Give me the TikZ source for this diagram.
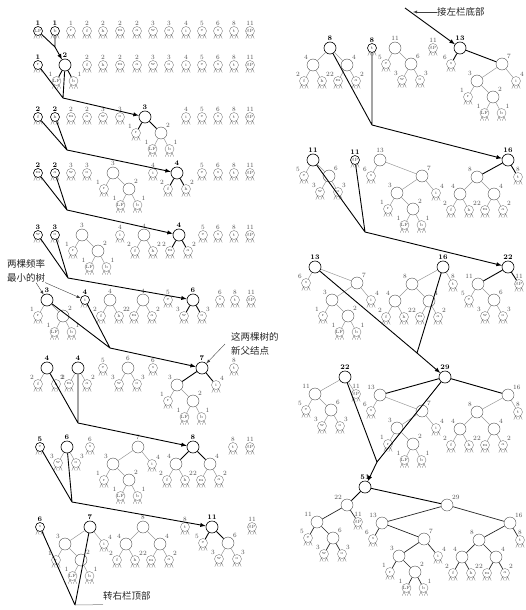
\documentclass[tikz,border=0pt]{standalone}
\usepackage{fontspec}
\newfontfamily\cjk{Noto Sans CJK SC}
\usepackage{tikz}

\tikzset{
  leaf/.style={circle,draw=gray,minimum size=9pt,inner sep=0pt,text=gray!60!black,font=\fontsize{4.5}{4.5}\selectfont},
  inner/.style={circle,draw=black!70,minimum size=12pt,inner sep=0pt},
  leg/.style={gray,line width=0.4pt},
  stp/.style={},
  stc/.style={draw=black,semithick},
  stn/.style={draw=black,semithick},
  wtp/.style={text=gray!60!black,inner sep=0.6pt,font=\fontsize{6.5}{7}\selectfont},
  wtc/.style={text=black,inner sep=0.6pt,font=\fontsize{7}{8}\selectfont\bfseries},
  wtn/.style={wtc},
  ep/.style={gray!80,line width=0.5pt},
  ec/.style={ep},
  en/.style={black,line width=0.9pt},
  mline/.style={black,line width=0.9pt},
  note/.style={font=\cjk\fontsize{9.5}{14}\selectfont,text=black!85,inner sep=0pt},
  noteline/.style={black!75,line width=0.4pt},
}

% leaf: name, x, y, letter, weight, label side, state
\newcommand{\Lf}[7]{%
  \node[leaf,st#7,label={[wt#7]#6:#5}] (#1) at (#2,#3) {#4};
  \draw[leg] (#1.center) ++(-4.2,7.5) -- ++(1.7,-3.7) -- ++(1.7,3.7)
             (#1.center) ++(0.8,7.5) -- ++(1.7,-3.7) -- ++(1.7,3.7);}
% inner node: name, x, y, weight, label side, state
\newcommand{\In}[6]{%
  \node[inner,st#6,label={[wt#6]#5:#4}] (#1) at (#2,#3) {};}

% subtrees: name, x, y, label side, state
\newcommand{\Ttwo}[5]{% 2 = LF + b
  \In{#1}{#2}{#3}{2}{#4}{#5}
  \Lf{#1a}{#2-8.5}{#3+16}{LF}{1}{above left}{p}
  \Lf{#1b}{#2+8.5}{#3+16}{b}{1}{above right}{p}
  \draw[e#5] (#1) -- (#1a) (#1) -- (#1b);}
\newcommand{\Tthree}[5]{% 3 = r + 2
  \In{#1}{#2}{#3}{3}{#4}{#5}
  \Lf{#1a}{#2-9}{#3+16}{r}{1}{above left}{p}
  \Ttwo{#1b}{#2+16}{#3+16}{above right}{p}
  \draw[e#5] (#1) -- (#1a) (#1) -- (#1b);}
\newcommand{\Tfh}[5]{% 4 = f + h
  \In{#1}{#2}{#3}{4}{#4}{#5}
  \Lf{#1a}{#2-9}{#3+16}{f}{2}{above left}{p}
  \Lf{#1b}{#2+9}{#3+16}{h}{2}{above right}{p}
  \draw[e#5] (#1) -- (#1a) (#1) -- (#1b);}
\newcommand{\Tma}[5]{% 4 = m + a
  \In{#1}{#2}{#3}{4}{#4}{#5}
  \Lf{#1a}{#2-9}{#3+16}{m}{2}{above left}{p}
  \Lf{#1b}{#2+9}{#3+16}{a}{2}{above right}{p}
  \draw[e#5] (#1) -- (#1a) (#1) -- (#1b);}
\newcommand{\Twoo}[5]{% 6 = w + o
  \In{#1}{#2}{#3}{6}{#4}{#5}
  \Lf{#1a}{#2-9}{#3+16}{w}{3}{above left}{p}
  \Lf{#1b}{#2+9}{#3+16}{o}{3}{above right}{p}
  \draw[e#5] (#1) -- (#1a) (#1) -- (#1b);}
\newcommand{\Tseven}[5]{% 7 = 3 + i
  \In{#1}{#2}{#3}{7}{#4}{#5}
  \Tthree{#1a}{#2-25}{#3+17}{above left}{p}
  \Lf{#1b}{#2+14}{#3+17}{i}{4}{above right}{p}
  \draw[e#5] (#1) -- (#1a) (#1) -- (#1b);}
\newcommand{\Teight}[5]{% 8 = 4 + 4
  \In{#1}{#2}{#3}{8}{#4}{#5}
  \Tfh{#1a}{#2-17}{#3+17}{above left}{p}
  \Tma{#1b}{#2+17}{#3+17}{above right}{p}
  \draw[e#5] (#1) -- (#1a) (#1) -- (#1b);}
\newcommand{\Televen}[5]{% 11 = e + 6
  \In{#1}{#2}{#3}{11}{#4}{#5}
  \Lf{#1a}{#2-9}{#3+16}{e}{5}{above left}{p}
  \Twoo{#1b}{#2+16}{#3+16}{above right}{p}
  \draw[e#5] (#1) -- (#1a) (#1) -- (#1b);}
\newcommand{\Tthirteen}[5]{% 13 = s + 7
  \In{#1}{#2}{#3}{13}{#4}{#5}
  \Lf{#1a}{#2-9}{#3+16}{s}{6}{above left}{p}
  \Tseven{#1b}{#2+42}{#3+16}{above right}{p}
  \draw[e#5] (#1) -- (#1a) (#1) -- (#1b);}
\newcommand{\Tsixteen}[5]{% 16 = 8 + t
  \In{#1}{#2}{#3}{16}{#4}{#5}
  \Teight{#1a}{#2-31}{#3+17}{above left}{p}
  \Lf{#1b}{#2+10}{#3+17}{t}{8}{above}{p}
  \draw[e#5] (#1) -- (#1a) (#1) -- (#1b);}
\newcommand{\Ttwentytwo}[5]{% 22 = 11 + SP
  \In{#1}{#2}{#3}{22}{#4}{#5}
  \Televen{#1a}{#2-30}{#3+17}{above left}{p}
  \Lf{#1b}{#2+11}{#3+17}{SP}{11}{above}{p}
  \draw[e#5] (#1) -- (#1a) (#1) -- (#1b);}
\newcommand{\Ttwentynine}[5]{% 29 = 13 + 16
  \In{#1}{#2}{#3}{29}{#4}{#5}
  \Tthirteen{#1a}{#2-65}{#3+18}{above left}{p}
  \Tsixteen{#1b}{#2+63}{#3+18}{above right}{p}
  \draw[e#5] (#1) -- (#1a) (#1) -- (#1b);}
\newcommand{\Tfiftyone}[5]{% 51 = 22 + 29
  \In{#1}{#2}{#3}{51}{#4}{#5}
  \Ttwentytwo{#1a}{#2-18}{#3+18}{above left}{p}
  \Ttwentynine{#1b}{#2+82}{#3+18}{above right}{p}
  \draw[e#5] (#1) -- (#1a) (#1) -- (#1b);}

\begin{document}
\begin{tikzpicture}[x=1pt,y=-1pt]
\useasboundingbox (0,0) rectangle (525,610);

% left column, step 1
\Lf{Aa}{38}{31}{LF}{1}{above}{c}
\Lf{Ab}{55}{31}{b}{1}{above}{c}
\Lf{Ac}{71}{31}{r}{1}{above}{p}
\Lf{Ad}{87}{31}{f}{2}{above}{p}
\Lf{Ae}{103}{31}{h}{2}{above}{p}
\Lf{Af}{120}{31}{m}{2}{above}{p}
\Lf{Ag}{137}{31}{a}{2}{above}{p}
\Lf{Ah}{153}{31}{w}{3}{above}{p}
\Lf{Ai}{169}{31}{o}{3}{above}{p}
\Lf{Aj}{186}{31}{i}{4}{above}{p}
\Lf{Ak}{202}{31}{e}{5}{above}{p}
\Lf{Al}{218}{31}{s}{6}{above}{p}
\Lf{Am}{234}{31}{t}{8}{above}{p}
\Lf{An}{250}{31}{SP}{11}{above}{p}

% step 2
\Lf{Ba}{38}{65}{r}{1}{above}{c}
\Ttwo{Bb}{65}{65}{above}{n}
\Lf{Bc}{87}{65}{f}{2}{above}{p}
\Lf{Bd}{103}{65}{h}{2}{above}{p}
\Lf{Be}{120}{65}{m}{2}{above}{p}
\Lf{Bf}{137}{65}{a}{2}{above}{p}
\Lf{Bg}{153}{65}{w}{3}{above}{p}
\Lf{Bh}{169}{65}{o}{3}{above}{p}
\Lf{Bi}{186}{65}{i}{4}{above}{p}
\Lf{Bj}{202}{65}{e}{5}{above}{p}
\Lf{Bk}{218}{65}{s}{6}{above}{p}
\Lf{Bl}{234}{65}{t}{8}{above}{p}
\Lf{Bm}{250}{65}{SP}{11}{above}{p}

% step 3
\Lf{Ca}{38}{117}{f}{2}{above}{c}
\Lf{Cb}{55}{117}{h}{2}{above}{c}
\Lf{Cc}{71}{117}{m}{2}{above}{p}
\Lf{Cd}{87}{117}{a}{2}{above}{p}
\Lf{Ce}{103}{117}{w}{3}{above}{p}
\Lf{Cf}{120}{117}{o}{3}{above}{p}
\Tthree{Cg}{145}{117}{above}{n}
\Lf{Ch}{186}{117}{i}{4}{above}{p}
\Lf{Ci}{202}{117}{e}{5}{above}{p}
\Lf{Cj}{218}{117}{s}{6}{above}{p}
\Lf{Ck}{234}{117}{t}{8}{above}{p}
\Lf{Cl}{250}{117}{SP}{11}{above}{p}

% step 4
\Lf{Da}{38}{173}{m}{2}{above}{c}
\Lf{Db}{55}{173}{a}{2}{above}{c}
\Lf{Dc}{71}{173}{w}{3}{above}{p}
\Lf{Dd}{87}{173}{o}{3}{above}{p}
\Tthree{De}{113}{173}{above}{p}
\Lf{Df}{153}{173}{i}{4}{above}{p}
\Tfh{Dg}{177}{173}{above}{n}
\Lf{Dh}{202}{173}{e}{5}{above}{p}
\Lf{Di}{218}{173}{s}{6}{above}{p}
\Lf{Dj}{234}{173}{t}{8}{above}{p}
\Lf{Dk}{250}{173}{SP}{11}{above}{p}

% step 5
\Lf{Ea}{38}{235}{w}{3}{above}{c}
\Lf{Eb}{55}{235}{o}{3}{above}{c}
\Tthree{Ec}{82}{235}{above}{p}
\Lf{Ed}{120}{235}{i}{4}{above}{p}
\Tfh{Ee}{144}{235}{above}{p}
\Tma{Ef}{179}{235}{above}{n}
\Lf{Eg}{203}{235}{e}{5}{above}{p}
\Lf{Eh}{218}{235}{s}{6}{above}{p}
\Lf{Ei}{234}{235}{t}{8}{above}{p}
\Lf{Ej}{250}{235}{SP}{11}{above}{p}

% step 6
\Tthree{Fa}{47}{300}{above}{c}
\Lf{Fb}{85}{300}{i}{4}{above}{c}
\Tfh{Fc}{110}{300}{above}{p}
\Tma{Fd}{143}{300}{above}{p}
\Lf{Fe}{168}{300}{e}{5}{above}{p}
\Twoo{Ff}{193}{300}{above}{n}
\Lf{Fg}{220}{300}{s}{6}{above}{p}
\Lf{Fh}{235}{300}{t}{8}{above}{p}
\Lf{Fi}{251}{300}{SP}{11}{above}{p}

% step 7
\Tfh{Ga}{47}{368}{above}{c}
\Tma{Gb}{78}{368}{above}{c}
\Lf{Gc}{103}{368}{e}{5}{above}{p}
\Twoo{Gd}{128}{368}{above}{p}
\Lf{Ge}{153}{368}{s}{6}{above}{p}
\Tseven{Gf}{202}{368}{above}{n}
\Lf{Gg}{234}{368}{t}{8}{above}{p}

% step 8
\Lf{Ha}{40}{447}{e}{5}{above}{c}
\Twoo{Hb}{67}{447}{above}{c}
\Lf{Hc}{90}{447}{s}{6}{above}{p}
\Tseven{Hd}{138}{447}{above}{p}
\Teight{He}{193}{447}{above}{n}
\Lf{Hf}{233}{447}{t}{8}{above}{p}
\Lf{Hg}{250}{447}{SP}{11}{above}{p}

% step 9
\Lf{Ia}{40}{527}{s}{6}{above}{c}
\Tseven{Ib}{90}{527}{above}{c}
\Teight{Ic}{143}{527}{above}{p}
\Lf{Id}{185}{527}{t}{8}{above}{p}
\Televen{Ie}{212}{527}{above}{n}
\Lf{If}{252}{527}{SP}{11}{above}{p}

% right column
\Teight{Ja}{330}{48}{above}{c}
\Lf{Jb}{372}{48}{t}{8}{above}{c}
\Televen{Jc}{395}{48}{above}{p}
\Lf{Jd}{433}{48}{SP}{11}{above}{p}
\Tthirteen{Je}{460}{48}{above}{n}

\Televen{Ka}{313}{160}{above}{c}
\Lf{Kb}{355}{160}{SP}{11}{above}{c}
\Tthirteen{Kc}{380}{160}{above}{p}
\Tsixteen{Kd}{508}{160}{above}{n}

\Tthirteen{La}{315}{267}{above}{c}
\Tsixteen{Lb}{443}{267}{above}{c}
\Ttwentytwo{Lc}{508}{267}{above}{n}

\Ttwentytwo{Ma}{345}{377}{above}{c}
\Ttwentynine{Mb}{445}{377}{above}{n}

\begin{scope}[ep/.style={black!85,line width=0.7pt}]
\Tfiftyone{Na}{365}{487}{above}{n}
\end{scope}

% merging arrows
\coordinate (mA) at (55,47);
\draw[mline] (Aa) -- (mA) (Ab) -- (mA);
\draw[mline,-latex] (mA) -- (Bb);
\coordinate (mB) at (63,98);
\draw[mline] (Ba) -- (mB) (Bb) -- (mB);
\draw[mline,-latex] (mB) -- (Cg);
\coordinate (mC) at (67,150);
\draw[mline] (Ca) -- (mC) (Cb) -- (mC);
\draw[mline,-latex] (mC) -- (Dg);
\coordinate (mD) at (67,210);
\draw[mline] (Da) -- (mD) (Db) -- (mD);
\draw[mline,-latex] (mD) -- (Ef);
\coordinate (mE) at (68,278);
\draw[mline] (Ea) -- (mE) (Eb) -- (mE);
\draw[mline,-latex] (mE) -- (Ff);
\coordinate (mF) at (110,348);
\draw[mline] (Fa) -- (mF) (Fb) -- (mF);
\draw[mline,-latex] (mF) -- (Gf);
\coordinate (mG) at (78,423);
\draw[mline] (Ga) -- (mG) (Gb) -- (mG);
\draw[mline,-latex] (mG) -- (He);
\coordinate (mH) at (72,502);
\draw[mline] (Ha) -- (mH) (Hb) -- (mH);
\draw[mline,-latex] (mH) -- (Ie);
\coordinate (mI) at (75,605);
\draw[mline] (Ia) -- (mI) (Ib) -- (mI);

\coordinate (fromL) at (405,8);
\draw[mline,-latex] (fromL) -- (Je);
\coordinate (mJ) at (372,125);
\draw[mline] (Ja) -- (mJ) (Jb) -- (mJ);
\draw[mline,-latex] (mJ) -- (Kd);
\coordinate (mK) at (365,232);
\draw[mline] (Ka) -- (mK) (Kb) -- (mK);
\draw[mline,-latex] (mK) -- (Lc);
\coordinate (mL) at (417,353);
\draw[mline] (La) -- (mL) (Lb) -- (mL);
\draw[mline,-latex] (mL) -- (Mb);
\coordinate (mM) at (377,462);
\draw[mline] (Ma) -- (mM) (Mb) -- (mM);
\draw[mline,-latex] (mM) -- (Na);

% notes
\node[note,align=center] (txtA) at (26,271) {两棵频率\\最小的树};
\draw[noteline,-latex] ([xshift=10pt]txtA.south) -- (Fa);
\draw[noteline,-latex] (txtA.south east) -- (Fb);
\node[note,align=left,anchor=west] (txtB) at (231,344) {这两棵树的\\新父结点};
\draw[noteline,-latex] ([xshift=-6pt]txtB.west) -- (Gf);
\node[note,anchor=west] (txtD) at (103,596) {转右栏顶部};
\draw[gray,line width=0.5pt] (mI) -- ([yshift=-4pt]txtD.south west);
\node[note,anchor=west] (txtC) at (437,12) {接左栏底部};
\coordinate (toL) at (413,12);
\draw[noteline,-latex] (txtC) -- (toL);
\end{tikzpicture}
\end{document}
